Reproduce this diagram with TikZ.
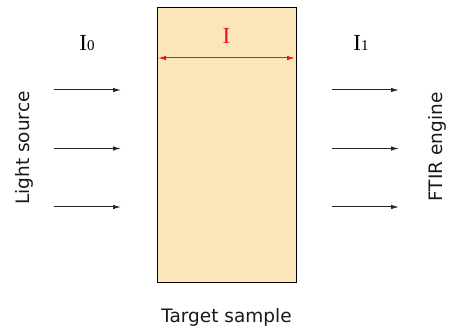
\documentclass[tikz,border=0pt]{standalone}
\usepackage{fontspec}
\setmainfont{Liberation Serif}
\newfontfamily\labelfont{DejaVu Sans}
\usetikzlibrary{arrows.meta}
\definecolor{samplefill}{RGB}{250,230,184}
\definecolor{dimred}{RGB}{235,20,30}
\begin{document}
\begin{tikzpicture}[x=1pt,y=-1pt,
  lbl/.style={font=\labelfont\fontsize{18.5}{22}\selectfont, inner sep=0pt, text=black!90},
  sym/.style={font=\fontsize{23}{26}\selectfont, inner sep=0pt, anchor=base},
  ray/.style={line width=1pt, black!85, -{Latex[length=8pt,width=4.5pt]}},
  dim/.style={line width=1pt, dimred, {Latex[length=8pt,width=4.5pt]}-{Latex[length=8pt,width=4.5pt]}}
]
\useasboundingbox (0,0) rectangle (454,328);
% sample block
\node[draw=black, line width=1pt, fill=samplefill, minimum width=139pt, minimum height=274pt, inner sep=0pt] (sample) at (226.5,145) {};
% thickness arrow
\coordinate (dl) at (158,58);
\coordinate (dr) at (295,58);
\draw[dim] (dl) -- (dr);
\node[sym, text=dimred] (thick) at (226.5,44) {I};
% intensity labels
\node[sym] (izero) at (87,51) {I{\fontsize{15}{17}\selectfont 0}};
\node[sym] (ione) at (361,51) {I{\fontsize{15}{17}\selectfont 1}};
% incoming rays
\foreach \y/\n in {90/a,148.5/b,207/c}{
  \coordinate (l\n s) at (54,\y);
  \coordinate (l\n e) at (121,\y);
  \coordinate (r\n s) at (332,\y);
  \coordinate (r\n e) at (399,\y);
  \draw[ray] (l\n s) -- (l\n e);
  \draw[ray] (r\n s) -- (r\n e);
}
% side labels
\node[lbl, rotate=90] (source) at (24.5,148) {Light source};
\node[lbl, rotate=90] (ftir) at (437,147) {FTIR engine};
\node[lbl, anchor=base] (target) at (226.5,322) {Target sample};
\end{tikzpicture}
\end{document}
